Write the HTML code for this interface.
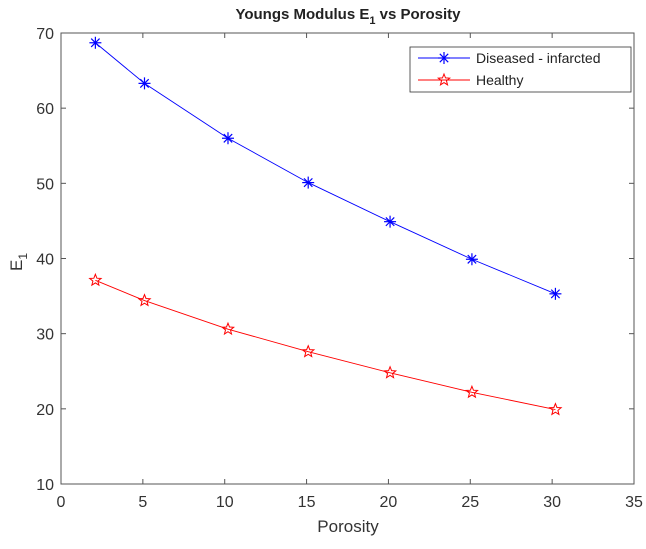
<!DOCTYPE html>
<html><head><meta charset="utf-8"><style>
html,body{margin:0;padding:0;background:#fff;}
svg text{font-family:"Liberation Sans",Arial,sans-serif;}
</style></head><body>
<svg id="chart" width="646" height="544" viewBox="0 0 646 544">
<rect width="646" height="544" fill="#fff"/>
<g id="axes"></g>
<g id="series"></g>
<text x="348" y="19" text-anchor="middle" font-size="15" font-weight="bold" fill="#222">Youngs Modulus E<tspan font-size="11" dy="5">1</tspan><tspan dy="-5"> vs Porosity</tspan></text>
<text x="348" y="532" text-anchor="middle" font-size="17" fill="#333">Porosity</text>
<text transform="translate(22,262) rotate(-90)" text-anchor="middle" font-size="17" fill="#333">E<tspan font-size="12" dy="5">1</tspan></text>
<g id="legend">
<rect x="410" y="47" width="221" height="45" fill="#fff" stroke="#333" stroke-width="0.8"/>
<g id="leg-d">
<line x1="418" y1="58" x2="470" y2="58" stroke="#0000ff" stroke-width="0.9"/>
<text x="476" y="63" font-size="14" fill="#222">Diseased - infarcted</text>
</g>
<g id="leg-h">
<line x1="418" y1="80" x2="470" y2="80" stroke="#ff0000" stroke-width="0.9"/>
<text x="476" y="85" font-size="14" fill="#222">Healthy</text>
</g>
</g>
</svg>
<script>
const xValues=[2.1,5.1,10.2,15.1,20.1,25.1,30.2];
const diseased=[68.7,63.3,56.0,50.1,44.9,39.9,35.3];
const healthy=[37.1,34.4,30.6,27.6,24.8,22.2,19.9];
const xTicks=[0,5,10,15,20,25,30,35];
const yTicks=[10,20,30,40,50,60,70];
const L=61,R=634,T=33,B=484;
const xs=v=>L+(v-0)/35*(R-L);
const ys=v=>B-(v-10)/60*(B-T);
const NS="http://www.w3.org/2000/svg";
function mk(tag,attrs,parent){const e=document.createElementNS(NS,tag);for(const k in attrs)e.setAttribute(k,attrs[k]);parent.appendChild(e);return e;}
function asterisk(cx,cy,color,parent){
 const g=mk('g',{stroke:color,'stroke-width':1.2},parent);
 const r=6;
 mk('line',{x1:cx-r,y1:cy,x2:cx+r,y2:cy},g);
 mk('line',{x1:cx,y1:cy-r,x2:cx,y2:cy+r},g);
 mk('line',{x1:cx-r*0.7,y1:cy-r*0.7,x2:cx+r*0.7,y2:cy+r*0.7},g);
 mk('line',{x1:cx-r*0.7,y1:cy+r*0.7,x2:cx+r*0.7,y2:cy-r*0.7},g);
 return g;
}
function star(cx,cy,color,parent){
 const pts=[];
 for(let k=0;k<10;k++){const rr=k%2?2.6:6;const a=-Math.PI/2+k*Math.PI/5;pts.push((cx+rr*Math.cos(a)).toFixed(2)+','+(cy+rr*Math.sin(a)).toFixed(2));}
 return mk('polygon',{points:pts.join(' '),fill:'none',stroke:color,'stroke-width':1},parent);
}
const ax=document.getElementById('axes');
const frame=mk('rect',{x:L,y:T,width:R-L,height:B-T,fill:'none',stroke:'#555','stroke-width':1},ax);


xTicks.forEach(t=>{
 const x=xs(t);
 mk('line',{x1:x,y1:B,x2:x,y2:B-5,stroke:'#555'},ax);
 mk('line',{x1:x,y1:T,x2:x,y2:T+5,stroke:'#555'},ax);
 const tx=mk('text',{x:x,y:B+23,'text-anchor':'middle','font-size':16,fill:'#333'},ax);
 tx.textContent=t;
 
 
});
yTicks.forEach(t=>{
 const y=ys(t);
 mk('line',{x1:L,y1:y,x2:L+5,y2:y,stroke:'#555'},ax);
 mk('line',{x1:R,y1:y,x2:R-5,y2:y,stroke:'#555'},ax);
 const tx=mk('text',{x:L-7,y:y+6,'text-anchor':'end','font-size':16,fill:'#333'},ax);
 tx.textContent=t;
 
 
});
const sg=document.getElementById('series');
function drawSeries(vals,color,marker,name){
 const pts=xValues.map((x,i)=>xs(x)+','+ys(vals[i])).join(' ');
 const pl=mk('polyline',{points:pts,fill:'none',stroke:color,'stroke-width':0.9},sg);
 
 
 xValues.forEach((x,i)=>{
  const m=marker(xs(x),ys(vals[i]),color,sg);
  
  
 });
}
drawSeries(diseased,'#0000ff',asterisk,'diseased');
drawSeries(healthy,'#ff0000',star,'healthy');
const ld=asterisk(444,58,'#0000ff',document.getElementById('leg-d'));


const lh=star(444,80,'#ff0000',document.getElementById('leg-h'));


</script>
</body></html>
